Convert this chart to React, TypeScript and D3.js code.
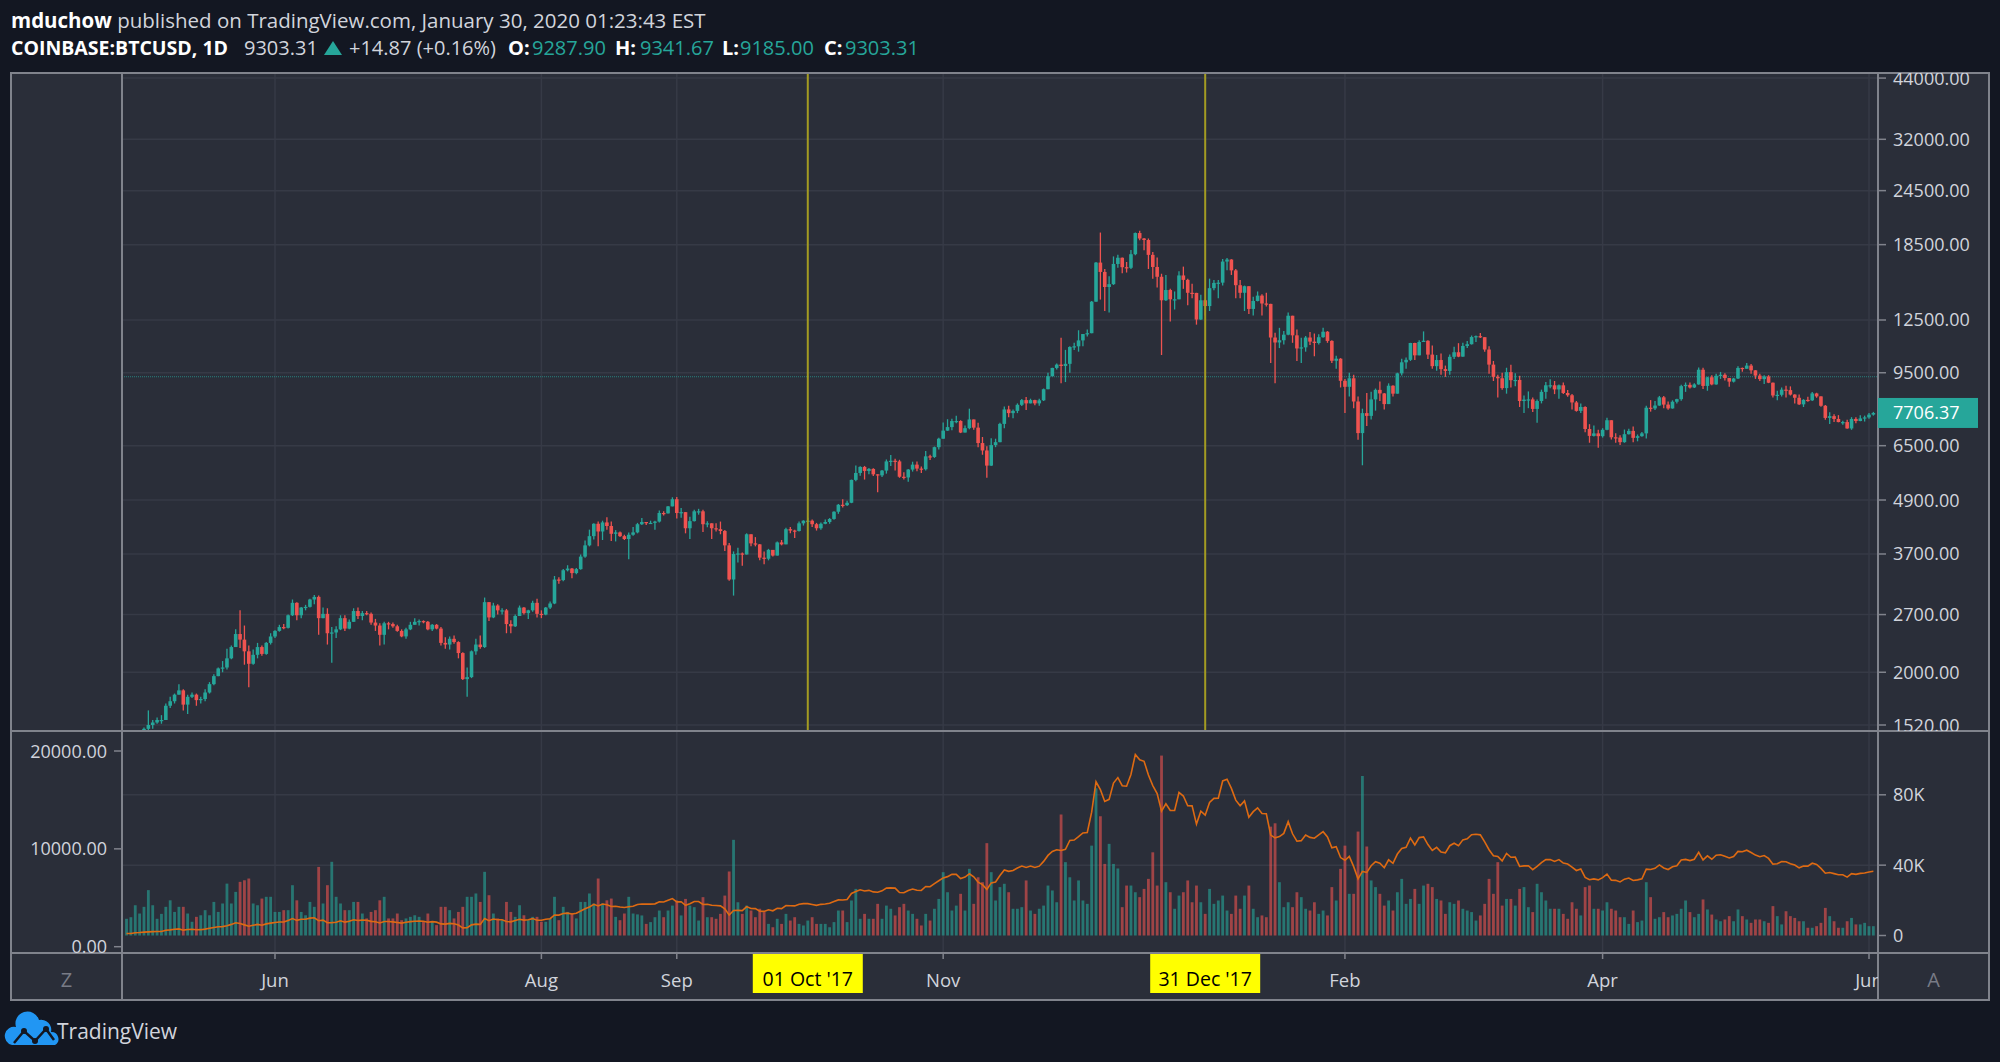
import React, { useEffect, useRef } from 'react';
import * as d3 from 'd3';

// COINBASE:BTCUSD daily bars. Bar 0 sits on 28 Apr 2017, one bar per day.
const firstBarDate = new Date(Date.UTC(2017, 3, 28));
const firstOpen = 1340;

const closes = [
    1350, 1355,
    1420, 1450, 1490, 1520, 1540, 1560, 1560, 1680, 1720, 1780, 1820, 1690, 1760, 1780, 1730, 1740, 1800, 1880, 1960, 2040, 2050, 2150, 2280, 2440, 2370, 2230, 2090, 2190, 2280, 2200, 2330,
    2409, 2480, 2530, 2520, 2690, 2870, 2690, 2800, 2810, 2920, 2960, 2650, 2710, 2450, 2460, 2500, 2650, 2510, 2600, 2750, 2680, 2720, 2710, 2590, 2550, 2430, 2580, 2570, 2540, 2480,
    2410, 2500, 2560, 2600, 2610, 2600, 2500, 2560, 2510, 2330, 2310, 2380, 2340, 2210, 1930, 1950, 2230, 2310, 2280, 2880, 2660, 2830, 2760, 2760, 2570, 2540, 2680, 2800, 2720, 2760, 2870,
    2710, 2700, 2800, 2860, 3240, 3230, 3400, 3430, 3350, 3420, 3650, 3870, 4060, 4330, 4160, 4360, 4280, 4110, 4140, 4060, 4000, 4090, 4140, 4320, 4370, 4350, 4350, 4380, 4580, 4570, 4740,
    4920, 4580, 4600, 4230, 4390, 4620, 4620, 4320, 4340, 4230, 4210, 4170, 3870, 3240, 3700, 3710, 3690, 4100, 3910, 3890, 3630, 3610, 3780, 3670, 3930, 3890, 4210, 4180, 4170, 4340,
    4400, 4400, 4320, 4230, 4330, 4370, 4440, 4610, 4780, 4770, 4830, 5440, 5640, 5820, 5700, 5760, 5600, 5570, 5710, 5990, 6010, 5990, 5530, 5510, 5740, 5890, 5770, 5750, 6150, 6130, 6450,
    6740, 7030, 7160, 7390, 7390, 6960, 7120, 7450, 7140, 6590, 6340, 5860, 6520, 6620, 7280, 7850, 7700, 7790, 8040, 8240, 8100, 8240, 8100, 8230, 8720, 9330, 9740, 9910, 9840, 9950,
    10860, 10900, 11240, 11620, 11670, 13750, 16850, 16050, 14840, 15060, 16730, 17280, 16450, 16400, 17600, 19650, 19100, 18950, 17540, 16470, 15650, 13850, 14610, 13920, 13920, 15760, 15400, 14400, 14390, 12530, 13850,
    13440, 14750, 15160, 15180, 16940, 17120, 16180, 14980, 14400, 14900, 13240, 13800, 14190, 13620, 13590, 11410, 11120, 11250, 11580, 12780, 11540, 10780, 10840, 11410, 11170, 11090, 11430, 11760, 11210, 10110, 10220,
    9110, 8830, 9230, 8180, 6940, 7700, 7590, 8270, 8690, 8530, 8070, 8880, 8520, 9470, 10030, 10160, 11090, 10400, 11150, 11220, 10440, 9830, 10150, 9680, 9590, 10320, 10570, 10330,
    10920, 11020, 11440, 11490, 11430, 10720, 9910, 9300, 9230, 8770, 9530, 9140, 9150, 8200, 8260, 8270, 7870, 8200, 8600, 8900, 8900, 8710, 8900, 8550, 8450, 8140, 7790, 7950, 7090, 6840, 6930,
    6830, 7060, 7420, 6790, 6780, 6620, 6900, 7020, 6770, 6830, 6930, 7920, 7890, 8010, 8360, 8050, 7890, 8170, 8280, 8860, 8920, 8800, 8940, 9650, 8870, 9280, 8940, 9350, 9400, 9240,
    9070, 9220, 9740, 9700, 9860, 9620, 9360, 9190, 9320, 9020, 8440, 8470, 8700, 8680, 8480, 8340, 8060, 8250, 8230, 8530, 8400, 8000, 7510, 7580, 7470, 7350, 7350, 7110, 7470, 7390, 7490,
    7530, 7640, 7706.37,
];

const highs = [
    1360, 1365,
    1440, 1460, 1500, 1640, 1560, 1580, 1600, 1700, 1760, 1790, 1880, 1830, 1780, 1800, 1790, 1760, 1830, 1900, 1980, 2050, 2120, 2260, 2300, 2500, 2760, 2550, 2300, 2250, 2330, 2300, 2340,
    2450, 2490, 2560, 2570, 2700, 2920, 2880, 2810, 2840, 2930, 2990, 2980, 2800, 2790, 2530, 2540, 2690, 2690, 2630, 2790, 2800, 2750, 2750, 2730, 2640, 2580, 2600, 2600, 2590, 2560,
    2500, 2520, 2600, 2650, 2630, 2620, 2610, 2570, 2570, 2530, 2400, 2410, 2420, 2350, 2220, 2050, 2240, 2380, 2420, 2950, 2880, 2870, 2850, 2790, 2780, 2620, 2700, 2830, 2810, 2770, 2900,
    2930, 2760, 2810, 2890, 3300, 3280, 3420, 3490, 3440, 3440, 3690, 3970, 4200, 4340, 4380, 4400, 4480, 4380, 4190, 4160, 4090, 4140, 4260, 4350, 4460, 4370, 4400, 4400, 4640, 4620, 4750,
    4970, 4980, 4700, 4600, 4490, 4660, 4680, 4660, 4390, 4340, 4340, 4380, 4190, 3920, 3750, 3820, 3730, 4120, 4100, 4040, 3900, 3750, 3800, 3780, 3950, 3980, 4240, 4260, 4200, 4380,
    4410, 4470, 4430, 4350, 4360, 4430, 4460, 4620, 4800, 4920, 4880, 5450, 5860, 5840, 5850, 5790, 5780, 5600, 5730, 6050, 6190, 6070, 6040, 5660, 5760, 5980, 5990, 5830, 6320, 6200, 6470,
    6770, 7330, 7460, 7480, 7600, 7420, 7220, 7880, 7450, 7320, 6800, 6480, 6760, 6740, 7320, 7970, 8000, 7850, 8100, 8290, 8370, 8300, 8260, 8300, 8750, 9500, 9750, 9970, 11400, 10700,
    10900, 11100, 11850, 11620, 11900, 13800, 16900, 19700, 16300, 15700, 17400, 17550, 17300, 16900, 17990, 19700, 19890, 19150, 19100, 17800, 17300, 15900, 15800, 14700, 14500, 16100, 16500, 15500, 15100, 14400, 14250,
    13900, 15500, 15400, 15400, 17170, 17250, 17150, 16300, 15400, 14950, 14900, 14100, 14500, 14300, 14400, 13600, 11700, 12000, 11800, 13000, 12780, 11900, 11400, 11500, 11750, 11650, 11600, 12000, 11800, 11250, 10380,
    10250, 9200, 9500, 9400, 8400, 7880, 8550, 8600, 8750, 9080, 8550, 8990, 8900, 9500, 10220, 10290, 11100, 11100, 11250, 11780, 11250, 10950, 10420, 10500, 9860, 10450, 10880, 11080,
    11100, 11200, 11530, 11530, 11680, 11430, 10900, 10100, 9400, 9500, 9750, 9900, 9470, 9350, 8440, 8620, 8350, 8270, 8700, 9050, 9180, 9100, 8940, 9030, 8680, 8500, 8200, 8100, 7980, 7270, 7220,
    7060, 7120, 7520, 7420, 6930, 6860, 7070, 7100, 7180, 6890, 6980, 8000, 8240, 8200, 8420, 8420, 8180, 8230, 8300, 8930, 9030, 9030, 8990, 9760, 9750, 9300, 9380, 9450, 9540, 9470,
    9240, 9250, 9820, 9760, 9990, 9940, 9630, 9450, 9380, 9380, 9030, 8650, 8800, 8880, 8850, 8490, 8480, 8280, 8380, 8590, 8560, 8410, 8030, 7730, 7650, 7620, 7400, 7440, 7540, 7540, 7620,
    7600, 7700, 7750,
];

const lows = [
    1330, 1335,
    1350, 1400, 1440, 1480, 1490, 1530, 1530, 1560, 1660, 1700, 1780, 1640, 1610, 1750, 1680, 1700, 1720, 1790, 1870, 1960, 2000, 2030, 2140, 2280, 2270, 2080, 1850, 2080, 2150, 2180, 2190,
    2310, 2390, 2470, 2500, 2510, 2680, 2620, 2650, 2760, 2800, 2850, 2430, 2650, 2310, 2100, 2390, 2490, 2480, 2500, 2600, 2640, 2620, 2690, 2560, 2480, 2300, 2310, 2500, 2520, 2470,
    2400, 2380, 2490, 2560, 2550, 2580, 2490, 2480, 2500, 2300, 2260, 2250, 2320, 2150, 1920, 1760, 1940, 2190, 2260, 2270, 2610, 2650, 2700, 2700, 2450, 2450, 2530, 2680, 2700, 2640, 2740,
    2660, 2650, 2690, 2780, 2850, 3170, 3210, 3380, 3260, 3330, 3410, 3630, 3850, 3990, 3850, 3980, 4200, 3960, 3950, 4040, 3980, 3600, 4070, 4120, 4300, 4300, 4330, 4200, 4360, 4520, 4570,
    4740, 4450, 4470, 4120, 4000, 4380, 4540, 4150, 4250, 4000, 4160, 4100, 3760, 3220, 2980, 3540, 3480, 3690, 3850, 3850, 3580, 3510, 3580, 3650, 3670, 3870, 3890, 4120, 4020, 4160,
    4290, 4370, 4260, 4180, 4200, 4320, 4330, 4420, 4560, 4710, 4750, 4820, 5400, 5560, 5450, 5600, 5550, 5100, 5520, 5620, 5850, 5710, 5500, 5450, 5390, 5680, 5690, 5640, 5710, 6030, 6100,
    6370, 6740, 7020, 7040, 7300, 6940, 6960, 7080, 7060, 6450, 6200, 5500, 5850, 6450, 6620, 7120, 7540, 7500, 7700, 7990, 7830, 8100, 8020, 8000, 8200, 8720, 9320, 9660, 9000, 9050,
    9500, 10700, 10600, 10900, 11470, 11670, 13750, 13900, 13100, 13000, 15000, 16400, 15950, 16000, 16300, 17500, 18920, 17970, 16300, 15500, 14800, 10420, 13800, 12400, 13200, 13920, 14700, 13500, 14000, 12200, 12500,
    12800, 13100, 14600, 14000, 14950, 16200, 15800, 14000, 14000, 13100, 12900, 12800, 13770, 12800, 13400, 10000, 9000, 10800, 11000, 11550, 11100, 10100, 10000, 10600, 10980, 10350, 11000, 11400, 11100, 10000, 9700,
    8800, 7700, 8400, 7900, 6700, 5870, 7200, 7450, 7800, 8200, 7850, 8070, 8400, 8520, 9370, 9700, 10100, 10150, 10400, 11150, 10200, 9700, 9600, 9400, 9300, 9400, 10200, 10300,
    10330, 10800, 11000, 11150, 11380, 10600, 9450, 9100, 8350, 8700, 8520, 8800, 8860, 7950, 7700, 7900, 7750, 7320, 8100, 8300, 8760, 8500, 8300, 8500, 8380, 7850, 7760, 7700, 6970, 6600, 6820,
    6430, 6780, 7040, 6710, 6600, 6520, 6600, 6890, 6620, 6650, 6810, 6750, 7760, 7830, 8000, 7900, 7840, 7880, 8100, 8210, 8600, 8750, 8780, 8920, 8730, 8650, 8900, 8920, 9200, 9120,
    8830, 9030, 9200, 9550, 9700, 9450, 9200, 9100, 8960, 9000, 8350, 8230, 8400, 8350, 8440, 8100, 8030, 7950, 8170, 8200, 8340, 7960, 7440, 7280, 7350, 7340, 7250, 7100, 7060, 7300, 7380,
    7370, 7480, 7600,
];

// volume, thousand BTC
const volumes = [
    9.5, 10.4, 17.2,
    12.5, 16.3, 25.8, 17.2, 9.5, 12.3, 16.3, 20, 13.4, 16.3, 16.3, 12.5, 7.8, 10.6, 11.5, 14.4, 11.5, 19.1, 13.4, 18.2, 29.5, 18.2, 24.8, 30.5, 31.4, 32.4, 18.2, 17.2, 21, 22, 22,
    13.4, 13.4, 14.4, 14.4, 28.6, 20, 13.4, 11.5, 19.1, 16.3, 39, 18.2, 28.6, 41.9, 22, 18.2, 14.4, 14.4, 19.1, 19.1, 12.5, 9.7, 13.4, 14.4, 20, 22, 9.7, 9.7, 12.5, 8.7,
    9.7, 10.6, 11.5, 10.6, 7.8, 12.5, 7.8, 5.9, 16.3, 16.3, 14.4, 9.7, 13.4, 16.3, 22, 22, 23.9, 19.1, 36.2, 22.9, 12.5, 9.7, 8.7, 19.1, 13.4, 10.6, 17.2, 11.5, 8.7, 10.6, 10.6,
    7.8, 7.8, 9.7, 22, 8.7, 16.3, 13.4, 12.5, 9.7, 19.1, 19.1, 23.9, 18.2, 32.4, 18.2, 20, 21, 10.6, 8.7, 12.5, 22, 12.5, 12, 11.4, 6.6, 7.6, 10.4, 14.2, 10.4, 14.2, 17,
    19.9, 11.4, 20.8, 17, 16.1, 8.5, 21.8, 10.4, 10.4, 9.5, 12.3, 22.7, 36.4, 54.4, 18.9, 12.3, 17, 14.2, 10.4, 15.2, 13.3, 6.6, 4.7, 9.5, 6.6, 12.3, 8.5, 10.4, 6.6, 5.7,
    8.5, 10.4, 6.6, 6.6, 6.6, 4.7, 7.6, 14.2, 14.2, 7.6, 19.9, 26.5, 9.5, 12.3, 9.5, 9.5, 18, 9.5, 17, 15.2, 11.4, 16.1, 18, 14.2, 12.3, 9.5, 5.7, 12.3, 8.5, 15.2, 20.8,
    36, 24.6, 14.2, 17, 23.7, 14.2, 37.9, 18, 33.1, 30.3, 52.5, 36, 19.9, 27.5, 29.4, 24.6, 15.2, 15.2, 16.1, 31.3, 14.2, 12.3, 15.2, 17, 28.4, 25.6, 18.9, 68.8, 41.7, 33.1,
    19.9, 31.3, 19.9, 18, 51.1, 83.7, 67.8, 40.7, 52.1, 40.7, 38.1, 16.1, 28.4, 28.4, 24.6, 21.8, 26.5, 32.2, 47.3, 28.4, 102.3, 30.3, 24.6, 15.2, 22.7, 24.6, 31.3, 18.9, 28.4, 18.9, 12.3,
    26.5, 18, 19.9, 22.7, 14.2, 12.3, 22.7, 15.2, 22.7, 28.4, 15.2, 10.4, 11.4, 10.4, 61.9, 63.8, 30.3, 16.1, 18.9, 16.1, 24.6, 21.8, 15.2, 14.2, 18.9, 12.3, 14.2, 11.4, 27.5, 19.9, 37.9,
    51.1, 23.7, 23.7, 59.1, 90.7, 50.6, 31.3, 27.5, 23.7, 17, 19.9, 14.2, 24.6, 32.2, 18, 20.8, 26.5, 18, 28.4, 29.4, 27.5, 20.8, 19.9, 12.3, 18.9, 18, 19.9, 15.2,
    14.2, 13.3, 8.5, 11.4, 18, 32.2, 23.7, 41.7, 17, 20.8, 20.8, 17, 26.5, 27.5, 16.1, 13.3, 29.4, 24.6, 19.9, 15.2, 15.2, 15.2, 12.3, 9.5, 18.9, 15.2, 11.4, 27.5, 28.4, 15.2, 15.2,
    14.2, 18.9, 15.2, 14.2, 10.4, 10.4, 6.6, 14.2, 7.6, 8.5, 30.3, 21.8, 9.5, 10.4, 13.3, 10.4, 11.4, 12.3, 15.2, 19.9, 13.3, 10.4, 12.3, 20.5, 14.8, 11.9, 9.1, 8.1, 9.1, 11,
    8.1, 14.8, 11, 9.1, 7.2, 9.1, 9.1, 8.1, 7.2, 16.7, 11, 6.3, 13.8, 11, 10, 8.1, 8.1, 4.4, 4.4, 5.3, 7.2, 15.7, 11, 8.1, 4.4, 4.4, 8.1, 10, 6.3, 6.3, 7.2,
    5.3, 5.3,
];

const priceTicks = [44000, 32000, 24500, 18500, 12500, 9500, 6500, 4900, 3700, 2700, 2000, 1520];
const volumeTicks = [0, 40, 80];
const compareTicks = [0, 10000, 20000];
const monthTicks = [
    { date: '2017-06-01', label: 'Jun' },
    { date: '2017-08-01', label: 'Aug' },
    { date: '2017-09-01', label: 'Sep' },
    { date: '2017-11-01', label: 'Nov' },
    { date: '2018-02-01', label: 'Feb' },
    { date: '2018-04-01', label: 'Apr' },
    { date: '2018-06-01', label: 'Jun' },
];
const markedDays = [
    { date: '2017-10-01', label: "01 Oct '17" },
    { date: '2017-12-31', label: "31 Dec '17" },
];

const symbolLabel = 'COINBASE:BTCUSD, 1D';
const lastPrice = 9303.31;
const change = '+14.87 (+0.16%)';
const ohlcLabels = ['O:', 'H:', 'L:', 'C:'];
const ohlcValues = [9287.9, 9341.67, 9185.0, 9303.31];

const FONT = "'Open Sans', 'DejaVu Sans', sans-serif";
const UP = '#26a69a';
const DOWN = '#ef5350';
const TEXT = '#d1d4dc';
const BORDER = '#80838c';
const GRID = '#363a46';

const App: React.FC = () => {
    const ref = useRef<SVGSVGElement | null>(null);

    useEffect(() => {
        const svg = d3.select(ref.current);
        svg.selectAll('*').remove();

        const W = 2000, H = 1062;
        const frame = { left: 11, right: 1989, top: 73, bottom: 1000 };
        const plotLeft = 122, plotRight = 1878;
        const priceBottom = 731, volumeBottom = 953;

        const bars = closes.map((c, i) => ({
            date: d3.utcDay.offset(firstBarDate, i),
            open: i === 0 ? firstOpen : closes[i - 1],
            high: highs[i],
            low: lows[i],
            close: c,
            volume: volumes[i],
        }));

        const x = d3.scaleUtc()
            .domain([new Date(Date.UTC(2017, 5, 1)), new Date(Date.UTC(2018, 5, 1))])
            .range([275, 1869]);
        const yPrice = d3.scaleLog().domain([1520, 32000]).range([725, 139.3]);
        const yVol = d3.scaleLinear().domain([0, 80]).range([935.5, 794.8]);
        const yCmp = d3.scaleLinear().domain([0, 20000]).range([946.7, 751]);

        svg.append('rect').attr('width', W).attr('height', H).attr('fill', '#131722');
        svg.append('rect')
            .attr('x', frame.left).attr('y', frame.top)
            .attr('width', frame.right - frame.left).attr('height', frame.bottom - frame.top)
            .attr('fill', '#2a2e39');

        const defs = svg.append('defs');
        const clip = (id: string, x0: number, y0: number, x1: number, y1: number) => {
            defs.append('clipPath').attr('id', id)
                .append('rect').attr('x', x0).attr('y', y0).attr('width', x1 - x0).attr('height', y1 - y0);
        };
        clip('price-clip', plotLeft, frame.top, plotRight, priceBottom);
        clip('vol-clip', plotLeft, priceBottom, plotRight, volumeBottom);
        clip('time-clip', plotLeft, volumeBottom, plotRight, frame.bottom);
        clip('paxis-clip', plotRight, frame.top, frame.right, priceBottom);
        clip('vaxis-clip', frame.left, priceBottom, frame.right, volumeBottom);

        // grid
        const grid = svg.append('g').attr('stroke', GRID).attr('stroke-width', 1.5);
        grid.selectAll('line.v').data(monthTicks).join('line')
            .attr('x1', d => x(new Date(d.date))).attr('x2', d => x(new Date(d.date)))
            .attr('y1', frame.top).attr('y2', volumeBottom)
            .attr('clip-path', 'url(#price-clip)');
        grid.selectAll('line.v2').data(monthTicks).join('line')
            .attr('x1', d => x(new Date(d.date))).attr('x2', d => x(new Date(d.date)))
            .attr('y1', priceBottom).attr('y2', volumeBottom)
            .attr('clip-path', 'url(#vol-clip)');
        const pg = svg.append('g').attr('clip-path', 'url(#price-clip)');
        pg.selectAll('line').data(priceTicks).join('line')
            .attr('x1', plotLeft).attr('x2', plotRight)
            .attr('y1', d => yPrice(d)).attr('y2', d => yPrice(d))
            .attr('stroke', GRID).attr('stroke-width', 1.5);
        svg.append('g').selectAll('line').data(volumeTicks.filter(v => v > 0)).join('line')
            .attr('x1', plotLeft).attr('x2', plotRight)
            .attr('y1', d => yVol(d)).attr('y2', d => yVol(d))
            .attr('stroke', GRID).attr('stroke-width', 1.5);

        // current price line
        svg.append('line')
            .attr('x1', plotLeft).attr('x2', plotRight)
            .attr('y1', yPrice(lastPrice)).attr('y2', yPrice(lastPrice))
            .attr('stroke', UP).attr('stroke-opacity', 0.7).attr('stroke-width', 1)
            .attr('stroke-dasharray', '1,1');

        // candles
        const cg = svg.append('g').attr('clip-path', 'url(#price-clip)');
        const candle = cg.selectAll('g').data(bars).join('g')
            .attr('fill', d => (d.close >= d.open ? UP : DOWN))
            .attr('stroke', d => (d.close >= d.open ? UP : DOWN));
        candle.append('line')
            .attr('x1', d => x(d.date)).attr('x2', d => x(d.date))
            .attr('y1', d => yPrice(d.high)).attr('y2', d => yPrice(d.low))
            .attr('stroke-width', 1.3);
        candle.append('rect')
            .attr('x', d => x(d.date) - 1.8).attr('width', 3.6)
            .attr('y', d => yPrice(Math.max(d.open, d.close)))
            .attr('height', d => Math.max(1.2, yPrice(Math.min(d.open, d.close)) - yPrice(Math.max(d.open, d.close))))
            .attr('stroke', 'none');

        // marked days
        svg.append('g').selectAll('line').data(markedDays).join('line')
            .attr('x1', d => x(new Date(d.date))).attr('x2', d => x(new Date(d.date)))
            .attr('y1', frame.top).attr('y2', priceBottom)
            .attr('stroke', '#a39b22').attr('stroke-width', 2);

        // volume
        const vg = svg.append('g').attr('clip-path', 'url(#vol-clip)');
        vg.selectAll('rect').data(bars).join('rect')
            .attr('x', d => x(d.date) - 1.4).attr('width', 2.8)
            .attr('y', d => yVol(d.volume))
            .attr('height', d => yVol(0) - yVol(d.volume))
            .attr('fill', d => (d.close >= d.open ? UP : DOWN))
            .attr('fill-opacity', 0.6);
        const line = d3.line<typeof bars[number]>()
            .x(d => x(d.date))
            .y(d => yCmp(d.close));
        vg.append('path').datum(bars)
            .attr('d', line)
            .attr('fill', 'none').attr('stroke', '#de6a12').attr('stroke-width', 1.6);

        // frame lines
        const fl = svg.append('g').attr('stroke', BORDER).attr('stroke-width', 2).attr('fill', 'none');
        fl.append('rect')
            .attr('x', frame.left).attr('y', frame.top)
            .attr('width', frame.right - frame.left).attr('height', frame.bottom - frame.top);
        [plotLeft, plotRight].forEach(px => fl.append('line')
            .attr('x1', px).attr('x2', px).attr('y1', frame.top).attr('y2', frame.bottom));
        [priceBottom, volumeBottom].forEach(py => fl.append('line')
            .attr('x1', frame.left).attr('x2', frame.right).attr('y1', py).attr('y2', py));

        // price axis
        const pa = svg.append('g').attr('clip-path', 'url(#paxis-clip)')
            .attr('font-family', FONT).attr('font-size', 18).attr('fill', TEXT);
        pa.selectAll('line').data(priceTicks).join('line')
            .attr('x1', plotRight).attr('x2', plotRight + 8)
            .attr('y1', d => yPrice(d)).attr('y2', d => yPrice(d))
            .attr('stroke', BORDER).attr('stroke-width', 1.5);
        pa.selectAll('text').data(priceTicks).join('text')
            .attr('x', plotRight + 15).attr('y', d => yPrice(d) + 6.5)
            .text(d => d3.format('.2f')(d));
        const lastBar = bars[bars.length - 1];
        const ly = yPrice(lastBar.close);
        pa.append('rect')
            .attr('x', plotRight - 1).attr('y', ly - 15).attr('width', 101).attr('height', 30)
            .attr('fill', UP);
        pa.append('text')
            .attr('x', plotRight + 15).attr('y', ly + 6.5).attr('fill', '#ffffff')
            .text(d3.format('.2f')(lastBar.close));

        // volume axes
        const va = svg.append('g').attr('clip-path', 'url(#vaxis-clip)')
            .attr('font-family', FONT).attr('font-size', 18).attr('fill', TEXT);
        va.selectAll('line.r').data(volumeTicks).join('line')
            .attr('x1', plotRight).attr('x2', plotRight + 8)
            .attr('y1', d => yVol(d)).attr('y2', d => yVol(d))
            .attr('stroke', BORDER).attr('stroke-width', 1.5);
        va.selectAll('text.r').data(volumeTicks).join('text')
            .attr('x', plotRight + 15).attr('y', d => yVol(d) + 6.5)
            .text(d => (d === 0 ? '0' : `${d}K`));
        const la = svg.append('g').attr('clip-path', 'url(#vaxis-clip)')
            .attr('font-family', FONT).attr('font-size', 18).attr('fill', TEXT);
        la.selectAll('line').data(compareTicks).join('line')
            .attr('x1', plotLeft - 8).attr('x2', plotLeft)
            .attr('y1', d => yCmp(d)).attr('y2', d => yCmp(d))
            .attr('stroke', BORDER).attr('stroke-width', 1.5);
        la.selectAll('text').data(compareTicks).join('text')
            .attr('x', plotLeft - 15).attr('y', d => yCmp(d) + 6.5)
            .attr('text-anchor', 'end')
            .text(d => d3.format('.2f')(d));

        // time axis
        const ta = svg.append('g').attr('clip-path', 'url(#time-clip)')
            .attr('font-family', FONT).attr('font-size', 18.5);
        ta.selectAll('line').data([...monthTicks, ...markedDays]).join('line')
            .attr('x1', d => x(new Date(d.date))).attr('x2', d => x(new Date(d.date)))
            .attr('y1', volumeBottom).attr('y2', volumeBottom + 6)
            .attr('stroke', BORDER).attr('stroke-width', 1.5);
        ta.selectAll('text.m').data(monthTicks).join('text')
            .attr('x', d => x(new Date(d.date))).attr('y', 987)
            .attr('text-anchor', 'middle').attr('fill', TEXT)
            .text(d => d.label);
        const mk = ta.selectAll('g.mk').data(markedDays).join('g');
        mk.append('rect')
            .attr('x', d => x(new Date(d.date)) - 55).attr('y', volumeBottom + 1)
            .attr('width', 110).attr('height', 39).attr('fill', '#ffff00');
        mk.append('text')
            .attr('x', d => x(new Date(d.date))).attr('y', 986)
            .attr('text-anchor', 'middle').attr('fill', '#000000').attr('font-size', 19.5)
            .text(d => d.label);

        svg.append('text').attr('x', (frame.left + plotLeft) / 2).attr('y', 987)
            .attr('text-anchor', 'middle').attr('font-family', FONT).attr('font-size', 20)
            .attr('fill', '#787b86').text('Z');
        svg.append('text').attr('x', (plotRight + frame.right) / 2).attr('y', 987)
            .attr('text-anchor', 'middle').attr('font-family', FONT).attr('font-size', 20)
            .attr('fill', '#787b86').text('A');

        // header
        const head = svg.append('g').attr('font-family', FONT).attr('font-size', 20);
        const t1 = head.append('text').attr('x', 11).attr('y', 28).attr('font-size', 20.5);
        t1.append('tspan').attr('font-weight', 700).attr('fill', '#ffffff').text('mduchow');
        t1.append('tspan').attr('fill', TEXT).text(' published on TradingView.com, January 30, 2020 01:23:43 EST');

        head.append('text').attr('x', 11).attr('y', 55).attr('font-weight', 700).attr('fill', '#ffffff')
            .attr('font-size', 19.5).text(symbolLabel);
        head.append('text').attr('x', 244).attr('y', 55).attr('fill', TEXT).text(d3.format('.2f')(lastPrice));
        head.append('path').attr('d', 'M324,55 L333,41 L342,55 Z').attr('fill', UP);
        head.append('text').attr('x', 349).attr('y', 55).attr('fill', TEXT).text(change);
        const ohlcX = [[508, 532], [615, 640], [722, 740], [824, 845]];
        ohlcLabels.forEach((lab, i) => {
            head.append('text').attr('x', ohlcX[i][0]).attr('y', 55)
                .attr('font-weight', 700).attr('fill', '#ffffff').text(lab);
            head.append('text').attr('x', ohlcX[i][1]).attr('y', 55)
                .attr('fill', UP).text(d3.format('.2f')(ohlcValues[i]));
        });

        // footer logo
        const logo = svg.append('g');
        logo.append('path')
            .attr('d', 'M12,1045 A9,9 0 0 1 16,1027 A12,12 0 0 1 39,1020 A10,10 0 0 1 51,1032 A7,7 0 0 1 55,1045 Z')
            .attr('fill', '#2196f3');
        logo.append('polyline')
            .attr('points', '14,1043 24,1031 35,1041 46,1029 54,1040')
            .attr('fill', 'none').attr('stroke', '#131722').attr('stroke-width', 2.5);
        [[24, 1031], [35, 1041], [46, 1029]].forEach(([cx, cy]) => logo.append('circle')
            .attr('cx', cx).attr('cy', cy).attr('r', 3).attr('fill', '#131722'));
        svg.append('text').attr('x', 57).attr('y', 1039)
            .attr('font-family', FONT).attr('font-size', 21).attr('fill', TEXT)
            .text('TradingView');
    }, []);

    return (
        <div style={{ position: 'absolute', left: 0, top: 0 }}>
            <svg ref={ref} width={2000} height={1062} style={{ display: 'block' }}></svg>
        </div>
    );
};

export default App;
